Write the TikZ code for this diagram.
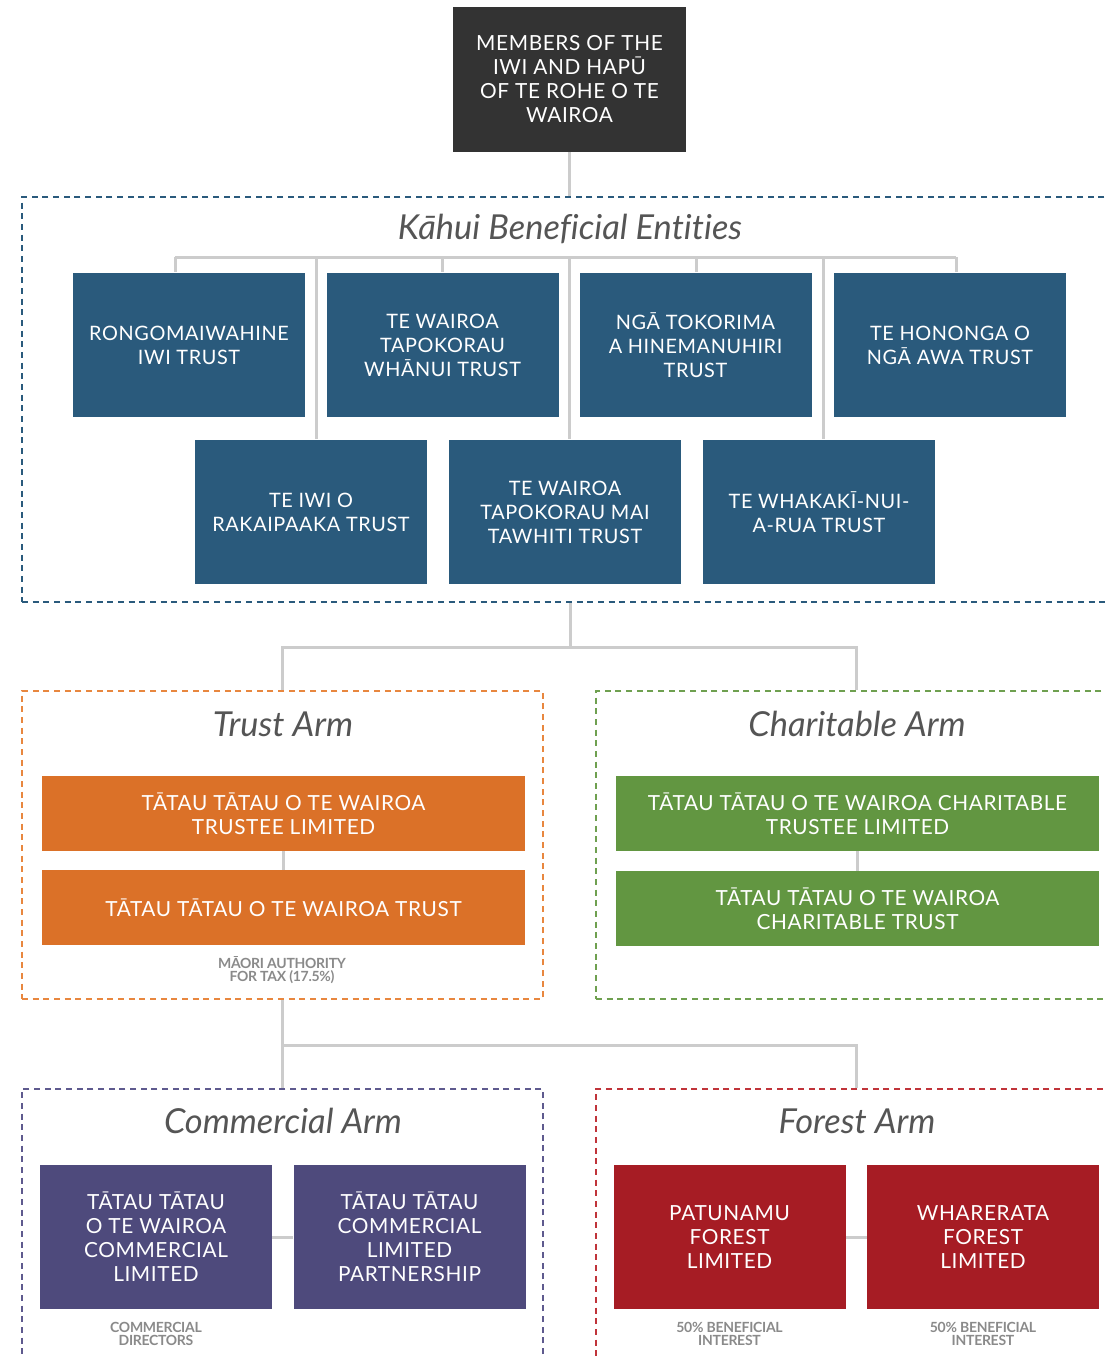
\documentclass[tikz,border=0pt]{standalone}
\usepackage{fontspec}
\setmainfont{Lato}
\newfontfamily\boxfamily[LetterSpace=3]{Lato}
\newfontfamily\notefamily[LetterSpace=-2]{Lato Bold}
\newfontfamily\titlefamily[Ligatures=NoCommon]{Lato Italic}
\definecolor{darkbox}{HTML}{333333}
\definecolor{blueC}{HTML}{2A5A7C}
\definecolor{orangeC}{HTML}{DB7128}
\definecolor{orangeD}{HTML}{E8873F}
\definecolor{greenC}{HTML}{629641}
\definecolor{greenD}{HTML}{6FA050}
\definecolor{purpleC}{HTML}{4E4A7C}
\definecolor{purpleD}{HTML}{5E5A8E}
\definecolor{redC}{HTML}{A61C24}
\definecolor{redD}{HTML}{C0343A}
\definecolor{lineC}{HTML}{CCCCCC}
\definecolor{titleC}{HTML}{555555}
\definecolor{noteC}{HTML}{8A8A8A}
\begin{document}
\begin{tikzpicture}[x=0.75pt,y=-0.75pt,
  entity/.style={inner sep=0pt, text=white, align=center,
    font=\boxfamily\fontsize{15.6}{18}\selectfont},
  tall/.style={entity, minimum width=232*0.75pt, minimum height=144*0.75pt},
  bluebox/.style={tall, fill=blueC, font=\boxfamily\fontsize{14.9}{18}\selectfont},
  wide/.style={entity, minimum width=483*0.75pt, minimum height=75*0.75pt},
  frame/.style={draw, dashed, dash pattern=on 4.5pt off 3.5pt, line width=1.5pt, inner sep=0pt},
  armtitle/.style={text=titleC, font=\titlefamily\fontsize{25.8}{30}\selectfont, inner sep=0pt},
  note/.style={text=noteC, align=center, inner sep=0pt, font=\notefamily\fontsize{10.5}{9.8}\selectfont},
  conn/.style={draw=lineC, line width=2.25pt}]
\useasboundingbox (0,0) rectangle (1106,1357);
\clip (0,0) rectangle (1106,1357);

% frames
\node[frame, draw=blueC, minimum width=1096*0.75pt, minimum height=405*0.75pt] (kahui) at (570,399.5) {};
\node[frame, draw=orangeD, minimum width=521*0.75pt, minimum height=308*0.75pt] (trustF) at (282.5,845) {};
\node[frame, draw=greenD, minimum width=520*0.75pt, minimum height=308*0.75pt] (charF) at (856,845) {};
\node[frame, draw=purpleD, minimum width=521*0.75pt, minimum height=320*0.75pt] (commF) at (282.5,1249) {};
\node[frame, draw=redD, minimum width=520*0.75pt, minimum height=320*0.75pt] (forestF) at (856,1249) {};

% titles
\node[armtitle] (kahuiT) at (570,229) {Kāhui Beneficial Entities};
\node[armtitle] (trustT) at (283,724) {Trust Arm};
\node[armtitle] (charT) at (857,724) {Charitable Arm};
\node[armtitle] (commT) at (283,1121) {Commercial Arm};
\node[armtitle] (forestT) at (857,1121) {Forest Arm};

% top
\node[entity, fill=darkbox, minimum width=233*0.75pt, minimum height=145*0.75pt] (members) at (569.5,79.5)
  {MEMBERS OF THE\\IWI AND HAPŪ\\OF TE ROHE O TE\\WAIROA};

% bus coordinates
\coordinate (t1) at (175,257);
\coordinate (t2) at (442,257);
\coordinate (t3) at (696,257);
\coordinate (t4) at (956,257);
\coordinate (t5) at (316,257);
\coordinate (t6) at (569,257);
\coordinate (t7) at (823,257);
\coordinate (j1) at (570,647);
\coordinate (j2) at (282.5,1045);

% connectors (drawn under boxes)
\draw[conn] (members.south) -- (members.south |- kahui.north);
\draw[conn] (t1) -- (t4);
\draw[conn] (t1) -- (t1 |- 0,272);
\draw[conn] (t2) -- (t2 |- 0,272);
\draw[conn] (t3) -- (t3 |- 0,272);
\draw[conn] (t4) -- (t4 |- 0,272);
\draw[conn] (t5) -- (t5 |- 0,439);
\draw[conn] (t6) -- (t6 |- 0,439);
\draw[conn] (t7) -- (t7 |- 0,439);
\draw[conn] (kahui.south -| j1) -- (j1);
\draw[conn] (trustF.north) |- (j1) -| (charF.north);
\draw[conn] (trustF.south) -- (commF.north);
\draw[conn] (j2) -| (forestF.north);

% kahui entities
\node[bluebox] (b1) at (189,345) {RONGOMAIWAHINE\\IWI TRUST};
\node[bluebox] (b2) at (442.5,345) {TE WAIROA\\TAPOKORAU\\WHĀNUI TRUST};
\node[bluebox] (b3) at (695.5,345) {NGĀ TOKORIMA\\A HINEMANUHIRI\\TRUST};
\node[bluebox] (b4) at (950,345) {TE HONONGA O\\NGĀ AWA TRUST};
\node[bluebox] (b5) at (311,512) {TE IWI O\\RAKAIPAAKA TRUST};
\node[bluebox] (b6) at (565,512) {TE WAIROA\\TAPOKORAU MAI\\TAWHITI TRUST};
\node[bluebox] (b7) at (819,512) {TE WHAKAKĪ-NUI-\\A-RUA TRUST};

% trust arm
\node[wide, fill=orangeC] (o1) at (283.5,813.5) {TĀTAU TĀTAU O TE WAIROA\\TRUSTEE LIMITED};
\node[wide, fill=orangeC] (o2) at (283.5,907.5) {TĀTAU TĀTAU O TE WAIROA TRUST};
\draw[conn] (o1.south) -- (o2.north);
\node[note] (n1) at (282,970.5) {MĀORI AUTHORITY\\FOR TAX (17.5\%)};

% charitable arm
\node[wide, fill=greenC] (g1) at (857.5,813.5) {TĀTAU TĀTAU O TE WAIROA CHARITABLE\\TRUSTEE LIMITED};
\node[wide, fill=greenC] (g2) at (857.5,908.5) {TĀTAU TĀTAU O TE WAIROA\\CHARITABLE TRUST};
\draw[conn] (g1.south) -- (g2.north);

% commercial arm
\node[tall, fill=purpleC] (p1) at (156,1237) {TĀTAU TĀTAU\\O TE WAIROA\\COMMERCIAL\\LIMITED};
\node[tall, fill=purpleC] (p2) at (409.5,1237) {TĀTAU TĀTAU\\COMMERCIAL\\LIMITED\\PARTNERSHIP};
\draw[conn] (p1.east) -- (p2.west);
\node[note] (n2) at (156,1333.5) {COMMERCIAL\\DIRECTORS};

% forest arm
\node[tall, fill=redC] (r1) at (729.5,1237) {PATUNAMU\\FOREST\\LIMITED};
\node[tall, fill=redC] (r2) at (983,1237) {WHARERATA\\FOREST\\LIMITED};
\draw[conn] (r1.east) -- (r2.west);
\node[note] (n3) at (729.5,1333.5) {50\% BENEFICIAL\\INTEREST};
\node[note] (n4) at (983,1333.5) {50\% BENEFICIAL\\INTEREST};
\end{tikzpicture}
\end{document}
